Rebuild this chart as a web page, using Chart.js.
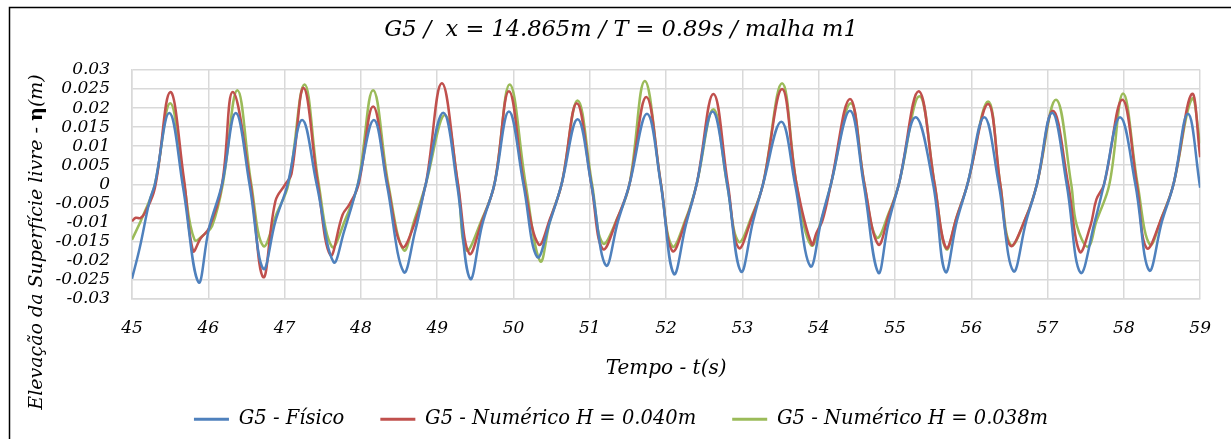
<!DOCTYPE html>
<html>
<head>
<meta charset="utf-8">
<script src="https://cdn.jsdelivr.net/npm/chart.js@4.4.1/dist/chart.umd.min.js"></script>
<style>
  html, body { margin: 0; padding: 0; background: #fff; overflow: hidden; }
  canvas { display: block; }
</style>
</head>
<body>
<canvas id="chart" width="1231" height="439"></canvas>
<script>
// G5 - Físico (measured)
var fisicoT = [45.00, 45.10, 45.23, 45.30, 45.49, 45.67, 45.87, 46.01, 46.18, 46.36, 46.54, 46.72, 46.88, 47.04, 47.23, 47.42, 47.64, 47.78, 47.96, 48.17, 48.34, 48.56, 48.71, 48.85, 49.08, 49.26, 49.43, 49.59, 49.75, 49.94, 50.13, 50.31, 50.48, 50.63, 50.84, 51.02, 51.21, 51.37, 51.52, 51.75, 51.93, 52.10, 52.26, 52.40, 52.61, 52.80, 52.98, 53.14, 53.27, 53.51, 53.69, 53.89, 54.04, 54.16, 54.41, 54.59, 54.78, 54.91, 55.05, 55.27, 55.50, 55.66, 55.81, 55.95, 56.17, 56.36, 56.55, 56.72, 56.86, 57.06, 57.25, 57.43, 57.62, 57.74, 57.95, 58.15, 58.33, 58.50, 58.65, 58.84, 59.00]
var fisicoV = [-0.0248, -0.0168, -0.0044, 0.0, 0.0187, -0.0009, -0.0257, -0.0115, 0.0, 0.0187, 0.0, -0.0222, -0.0097, 0.0, 0.0169, 0.0, -0.0204, -0.0124, 0.0, 0.0169, 0.0, -0.0230, -0.0124, 0.0, 0.0188, 0.0, -0.0248, -0.0106, 0.0, 0.0191, 0.0, -0.0191, -0.0097, 0.0, 0.0171, 0.0, -0.0213, -0.0097, 0.0, 0.0185, 0.0, -0.0235, -0.0106, 0.0, 0.0191, 0.0, -0.0229, -0.0097, 0.0, 0.0164, 0.0, -0.0215, -0.0089, 0.0, 0.0193, 0.0, -0.0232, -0.0106, 0.0, 0.0176, 0.0, -0.0230, -0.0097, 0.0, 0.0176, 0.0, -0.0228, -0.0097, 0.0, 0.0188, 0.0, -0.0232, -0.0097, 0.0, 0.0176, 0.0, -0.0226, -0.0097, 0.0, 0.0185, -0.0009]

// G5 - Numérico H = 0.040m
var num040T = [45.00, 45.05, 45.11, 45.17, 45.30, 45.50, 45.68, 45.80, 45.90, 46.01, 46.18, 46.32, 46.55, 46.72, 46.88, 47.01, 47.09, 47.25, 47.43, 47.60, 47.76, 47.85, 47.97, 48.16, 48.35, 48.54, 48.70, 48.85, 49.06, 49.27, 49.42, 49.59, 49.75, 49.94, 50.14, 50.33, 50.48, 50.63, 50.83, 51.02, 51.17, 51.37, 51.52, 51.74, 51.93, 52.08, 52.26, 52.40, 52.62, 52.81, 52.95, 53.13, 53.27, 53.52, 53.71, 53.91, 53.97, 54.05, 54.16, 54.41, 54.60, 54.78, 54.92, 55.05, 55.31, 55.52, 55.67, 55.81, 55.95, 56.22, 56.38, 56.51, 56.72, 56.86, 57.07, 57.27, 57.42, 57.56, 57.64, 57.74, 57.98, 58.17, 58.30, 58.50, 58.65, 58.89, 59.00]
var num040V = [-0.0097, -0.0088, -0.0089, -0.0075, -0.0010, 0.0242, 0.0015, -0.0175, -0.0142, -0.0115, 0.0, 0.0242, 0.0005, -0.0244, -0.0044, 0.0, 0.0027, 0.0253, 0.0010, -0.0186, -0.0080, -0.0053, 0.0, 0.0204, 0.0, -0.0164, -0.0105, 0.0, 0.0265, 0.0005, -0.0182, -0.0095, 0.0, 0.0244, 0.0, -0.0158, -0.0090, 0.0, 0.0213, 0.0, -0.0170, -0.0085, 0.0, 0.0229, 0.0005, -0.0175, -0.0095, 0.0, 0.0237, 0.0, -0.0167, -0.0085, 0.0, 0.0250, 0.0, -0.0158, -0.0128, -0.0095, 0.0, 0.0224, 0.0, -0.0158, -0.0080, 0.0, 0.0244, 0.0, -0.0167, -0.0085, 0.0, 0.0211, 0.0, -0.0161, -0.0085, 0.0, 0.0193, 0.0, -0.0177, -0.0110, -0.0040, 0.0, 0.0222, 0.0, -0.0168, -0.0085, 0.0, 0.0237, 0.0071]

// G5 - Numérico H = 0.038m
var num038T = [45.00, 45.15, 45.30, 45.50, 45.68, 45.82, 45.95, 46.05, 46.19, 46.38, 46.56, 46.72, 46.90, 47.05, 47.26, 47.44, 47.62, 47.79, 47.96, 48.16, 48.36, 48.56, 48.70, 48.85, 49.10, 49.27, 49.38, 49.58, 49.75, 49.95, 50.16, 50.35, 50.48, 50.63, 50.84, 51.03, 51.17, 51.37, 51.52, 51.72, 51.93, 52.08, 52.26, 52.40, 52.62, 52.80, 52.95, 53.13, 53.27, 53.52, 53.71, 53.90, 54.04, 54.16, 54.42, 54.60, 54.76, 54.92, 55.05, 55.32, 55.52, 55.67, 55.81, 55.95, 56.22, 56.38, 56.52, 56.72, 56.86, 57.11, 57.31, 57.38, 57.53, 57.64, 57.81, 57.99, 58.18, 58.34, 58.50, 58.65, 58.89, 59.00]
var num038V = [-0.0146, -0.0080, 0.0, 0.0213, 0.0005, -0.0146, -0.0131, -0.0110, 0.0, 0.0247, 0.0005, -0.0162, -0.0075, 0.0, 0.0262, 0.0010, -0.0164, -0.0095, 0.0, 0.0247, 0.0, -0.0173, -0.0095, 0.0, 0.0182, 0.0, -0.0173, -0.0095, 0.0, 0.0262, 0.0, -0.0202, -0.0095, 0.0, 0.0220, 0.0, -0.0155, -0.0085, 0.0, 0.0271, 0.0005, -0.0163, -0.0090, 0.0, 0.0197, 0.0, -0.0151, -0.0080, 0.0, 0.0265, 0.0, -0.0160, -0.0090, 0.0, 0.0213, 0.0, -0.0140, -0.0075, 0.0, 0.0231, 0.0, -0.0170, -0.0085, 0.0, 0.0217, 0.0, -0.0160, -0.0085, 0.0, 0.0222, 0.0, -0.0106, -0.0164, -0.0097, 0.0, 0.0238, 0.0, -0.0158, -0.0085, 0.0, 0.0224, 0.0107]

var xTicks = [45, 46, 47, 48, 49, 50, 51, 52, 53, 54, 55, 56, 57, 58, 59]
var yMin = -0.03, yMax = 0.03, yStep = 0.005

var serif = '"DejaVu Serif", "Liberation Serif", serif'

function pts(t, v) {
  return t.map(function (x, i) { return { x: x, y: v[i] } })
}

// outer frame + y axis title (η in bold)
var extras = {
  id: 'extras',
  afterDraw: function (chart) {
    var ctx = chart.ctx
    ctx.save()
    ctx.strokeStyle = '#000'
    ctx.lineWidth = 1.5
    ctx.beginPath()
    ctx.moveTo(9.5, 450)
    ctx.lineTo(9.5, 7.5)
    ctx.lineTo(1250, 7.5)
    ctx.stroke()

    var a = 'Elevação da Superfície livre - '
    var b = 'η'
    var c = '(m)'
    var fa = 'italic 19px ' + serif
    var fb = 'bold 19px ' + serif
    ctx.font = fa
    var wa = ctx.measureText(a).width
    var wc = ctx.measureText(c).width
    ctx.font = fb
    var wb = ctx.measureText(b).width
    var total = wa + wb + wc
    ctx.translate(37, 242)
    ctx.rotate(-Math.PI / 2)
    ctx.fillStyle = '#000'
    ctx.textBaseline = 'middle'
    ctx.textAlign = 'left'
    var x0 = -total / 2
    ctx.font = fa
    ctx.fillText(a, x0, 0)
    ctx.font = fb
    ctx.fillText(b, x0 + wa, 0)
    ctx.font = fa
    ctx.fillText(c, x0 + wa + wb, 0)
    ctx.restore()
  }
}

var ctx = document.getElementById('chart').getContext('2d')
new Chart(ctx, {
  type: 'line',
  data: {
    datasets: [
      { label: 'G5 - Físico', data: pts(fisicoT, fisicoV), borderColor: '#4F81BD', backgroundColor: '#4F81BD' },
      { label: 'G5 - Numérico H = 0.040m', data: pts(num040T, num040V), borderColor: '#C0504D', backgroundColor: '#C0504D' },
      { label: 'G5 - Numérico H = 0.038m', data: pts(num038T, num038V), borderColor: '#9BBB59', backgroundColor: '#9BBB59' }
    ]
  },
  options: {
    responsive: false,
    animation: false,
    devicePixelRatio: 1,
    layout: { padding: { left: 30, right: 19, top: 0, bottom: 0 } },
    elements: {
      point: { radius: 0 },
      line: { borderWidth: 2.5, tension: 0.4 }
    },
    plugins: {
      title: {
        display: true,
        text: 'G5 /  x = 14.865m / T = 0.89s / malha m1',
        color: '#000',
        font: { family: serif, size: 22.5, style: 'italic', weight: 'normal', lineHeight: 1.2 },
        padding: { top: 17, bottom: 26 }
      },
      legend: {
        position: 'bottom',
        labels: {
          color: '#000',
          font: { family: serif, size: 19.5, style: 'italic' },
          boxWidth: 35,
          boxHeight: 3,
          padding: 36,
          generateLabels: function (chart) {
            var items = Chart.defaults.plugins.legend.labels.generateLabels(chart)
            items.forEach(function (it) { it.lineWidth = 0 })
            return items
          }
        }
      },
      tooltip: { enabled: false }
    },
    scales: {
      x: {
        type: 'linear',
        min: 45,
        max: 59,
        afterBuildTicks: function (scale) {
          scale.ticks = xTicks.map(function (v) { return { value: v } })
        },
        afterFit: function (scale) { scale.height = 75 },
        grid: { color: '#d9d9d9', lineWidth: 1.5, drawTicks: false },
        border: { color: '#d9d9d9', width: 1.5 },
        ticks: {
          color: '#000',
          padding: 20,
          maxRotation: 0,
          autoSkip: false,
          font: { family: serif, size: 17, style: 'italic' }
        },
        title: {
          display: true,
          text: 'Tempo - t(s)',
          color: '#000',
          font: { family: serif, size: 20, style: 'italic', lineHeight: 0.5 },
          padding: 0
        }
      },
      y: {
        min: yMin,
        max: yMax,
        afterFit: function (scale) { scale.width = 102 },
        grid: { color: '#d9d9d9', lineWidth: 1.5, drawTicks: false },
        border: { color: '#d9d9d9', width: 1.5 },
        ticks: {
          stepSize: yStep,
          autoSkip: false,
          color: '#000',
          padding: 22,
          font: { family: serif, size: 17, style: 'italic' },
          callback: function (v) {
            if (Math.abs(v) < 1e-9) return '0'
            return parseFloat(v.toFixed(3)).toString()
          }
        }
      }
    }
  },
  plugins: [extras]
})
</script>
</body>
</html>
